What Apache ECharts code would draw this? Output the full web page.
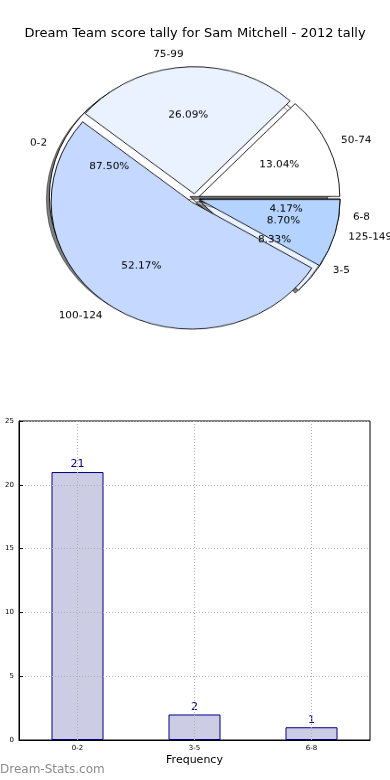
<!DOCTYPE html>
<html>
<head>
<meta charset="utf-8">
<script src="https://cdn.jsdelivr.net/npm/echarts@6/dist/echarts.min.js"></script>
<style>
html,body{margin:0;padding:0;width:390px;height:780px;overflow:hidden;background:#fff;}
#bar{position:absolute;left:0;top:0;width:390px;height:780px;}
#pie{position:absolute;left:0;top:0;width:470px;height:400px;transform:scaleY(0.904);transform-origin:0 198.3px;pointer-events:none;}
</style>
</head>
<body>
<div id="bar"></div>
<div id="pie"></div>
<script>
// ---- data ----
const titleText = 'Dream Team score tally for Sam Mitchell - 2012 tally';
const freqCategories = ['0-2', '3-5', '6-8'];
const freqValues = [21, 2, 1];
const scoreCategories = ['50-74', '75-99', '100-124', '125-149'];
const scoreValues = [3, 6, 12, 2];
const yTicks = [0, 5, 10, 15, 20, 25];
const freqColors = ['#ffffff', '#eaf1ff', '#c5d8ff'];
const scoreColors = ['#ffffff', '#eaf1ff', '#c5d8ff', '#b4d4ff'];

const FONT = 'DejaVu Sans';
const R = 140.6;
const CENTER = [194.6, 198.3];
const EXPLODE = 5;

function sectorSeries(names, values, colors, z, shadow) {
  return {
    type: 'pie', z: z, center: CENTER, radius: R,
    startAngle: 0, clockwise: false, animation: false,
    avoidLabelOverlap: false, selectedMode: 'multiple', selectedOffset: EXPLODE,
    emphasis: {disabled: true}, silent: true,
    itemStyle: Object.assign({borderColor: '#000', borderWidth: 0.9},
      shadow ? {shadowColor: 'rgba(0,0,0,0.5)', shadowOffsetX: -3, shadowOffsetY: 3, shadowBlur: 0} : {}),
    label: {show: true, position: 'outside', fontFamily: FONT, fontSize: 10.5, color: '#000', distanceToLabelLine: 0},
    labelLine: {show: false, length: R * 0.1, length2: 0},
    data: names.map((n, i) => ({name: n, value: values[i], selected: true, itemStyle: {color: colors[i]}}))
  };
}
function pctSeries(names, values, z) {
  return {
    type: 'pie', z: z, center: CENTER, radius: R * 1.2,
    startAngle: 0, clockwise: false, animation: false,
    avoidLabelOverlap: false, selectedMode: 'multiple', selectedOffset: EXPLODE,
    emphasis: {disabled: true}, silent: true,
    itemStyle: {color: 'rgba(0,0,0,0)', borderWidth: 0},
    label: {show: true, position: 'inside', fontFamily: FONT, fontSize: 10.5, color: '#000',
      formatter: p => p.percent.toFixed(2) + '%'},
    labelLine: {show: false},
    data: names.map((n, i) => ({name: n, value: values[i], selected: true}))
  };
}

const pie = echarts.init(document.getElementById('pie'), null, {renderer: 'canvas'});
pie.setOption({
  animation: false,
  series: [
    sectorSeries(freqCategories, freqValues, freqColors, 1, true),
    sectorSeries(scoreCategories, scoreValues, scoreColors, 2, false),
    pctSeries(freqCategories, freqValues, 4),
    pctSeries(scoreCategories, scoreValues, 4)
  ]
});

const bar = echarts.init(document.getElementById('bar'), null, {renderer: 'canvas'});
bar.setOption({
  animation: false,
  title: {text: titleText, left: 'center', top: 22, textStyle: {fontFamily: FONT, fontSize: 13, fontWeight: 'normal', color: '#000'}},
  grid: {left: 19, right: 20, top: 421, bottom: 40, show: true, borderColor: '#000', borderWidth: 1, containLabel: false},
  xAxis: {
    type: 'category', data: freqCategories, z: 3,
    axisLine: {lineStyle: {color: '#000', width: 1}},
    axisTick: {alignWithLabel: true, inside: true, length: 4, lineStyle: {color: '#000'}},
    axisLabel: {fontFamily: FONT, fontSize: 7, color: '#000', margin: 5},
    name: 'Frequency', nameLocation: 'middle', nameGap: 15,
    nameTextStyle: {fontFamily: FONT, fontSize: 11, color: '#000'}
  },
  yAxis: {
    type: 'value', min: yTicks[0], max: yTicks[yTicks.length - 1], interval: yTicks[1] - yTicks[0], z: 3,
    axisLine: {show: true, lineStyle: {color: '#000', width: 1}},
    axisTick: {show: true, inside: true, length: 4, lineStyle: {color: '#000'}},
    axisLabel: {fontFamily: FONT, fontSize: 7, color: '#000', margin: 5},
    splitLine: {show: true, lineStyle: {color: '#b0b0b0', type: [1, 2], width: 1}}
  },
  series: [{
    type: 'bar', data: freqValues, barWidth: 52,
    itemStyle: {color: '#ccccE5', borderColor: '#000080', borderWidth: 1},
    label: {show: true, position: 'top', distance: 2, fontFamily: FONT, fontSize: 11, color: '#000080'},
    emphasis: {disabled: true},
    markLine: {
      silent: true, symbol: 'none', label: {show: false}, animation: false,
      lineStyle: {color: '#b0b0b0', type: [1, 2], width: 1},
      data: freqCategories.map(c => ({xAxis: c}))
    }
  }],
  graphic: [{
    type: 'text', left: 0, top: 764,
    style: {text: 'Dream-Stats.com', font: '12px "DejaVu Sans"', fill: '#8c8c8c'}
  }]
});
</script>
</body>
</html>
